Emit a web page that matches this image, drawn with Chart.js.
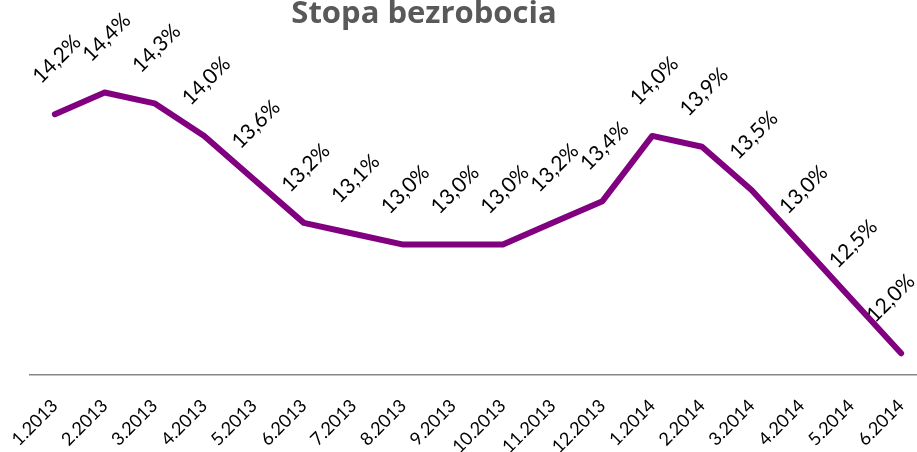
<!DOCTYPE html>
<html>
<head>
<meta charset="utf-8">
<script src="https://cdn.jsdelivr.net/npm/chart.js@4"></script>
<style>
  html, body { margin: 0; padding: 0; background: #fff; overflow: hidden; }
  #wrap { width: 940px; height: 452px; position: relative; }
</style>
</head>
<body>
<div id="wrap"><canvas id="chart" width="940" height="452"></canvas></div>
<script>
"use strict";

const TITLE = "Stopa bezrobocia";
const MONTHS = ["1.2013", "2.2013", "3.2013", "4.2013", "5.2013", "6.2013", "7.2013", "8.2013", "9.2013",
    "10.2013", "11.2013", "12.2013", "1.2014", "2.2014", "3.2014", "4.2014", "5.2014", "6.2014"];
const RATES = [14.2, 14.4, 14.3, 14.0, 13.6, 13.2, 13.1, 13.0, 13.0, 13.0, 13.2, 13.4, 14.0, 13.9, 13.5, 13.0, 12.5, 12.0];
const Y_MIN = 11.8;
const Y_MAX = 14.8;

const LABEL_FONT = '21px Lato, "Liberation Sans", sans-serif';
const VISIBLE_WIDTH = 917;

// rotated value labels above each point, kept inside the visible area
const valueLabels = {
    id: "valueLabels",
    afterDatasetsDraw(chart) {
        const ctx = chart.ctx;
        const meta = chart.getDatasetMeta(0);
        ctx.save();
        ctx.font = LABEL_FONT;
        ctx.fillStyle = "#000";
        ctx.textAlign = "center";
        ctx.textBaseline = "middle";
        meta.data.forEach((pt, i) => {
            const txt = RATES[i].toFixed(1).replace(".", ",") + "%";
            const half = (ctx.measureText(txt).width / 2 + 8) * Math.SQRT1_2;
            let cx = pt.x + 2;
            if (cx + half > VISIBLE_WIDTH) cx = VISIBLE_WIDTH - half;
            ctx.save();
            ctx.translate(cx, pt.y - 55);
            ctx.rotate(-Math.PI / 4);
            ctx.fillText(txt, 0, 0);
            ctx.restore();
        });
        ctx.restore();
    }
};

// title placed like the original (not centred on the canvas)
const titleText = {
    id: "titleText",
    afterDraw(chart) {
        const ctx = chart.ctx;
        ctx.save();
        ctx.font = 'bold 31px "Open Sans", sans-serif';
        ctx.fillStyle = "#595959";
        ctx.textAlign = "center";
        ctx.textBaseline = "alphabetic";
        ctx.fillText(TITLE, 424, 23);
        ctx.restore();
    }
};

new Chart(document.getElementById("chart"), {
    type: "line",
    data: {
        labels: MONTHS,
        datasets: [{
            data: RATES,
            borderColor: "#800080",
            borderWidth: 6,
            borderCapStyle: "round",
            borderJoinStyle: "round",
            pointRadius: 0,
            tension: 0,
            fill: false
        }]
    },
    options: {
        responsive: false,
        animation: false,
        layout: { padding: { top: 49, left: 30, right: 14, bottom: 0 } },
        scales: {
            y: {
                display: false,
                min: Y_MIN,
                max: Y_MAX
            },
            x: {
                offset: true,
                afterFit: (scale) => {
                    scale.height = 77;
                    scale.paddingLeft = 0;
                    scale.paddingRight = 0;
                },
                grid: { display: false, drawTicks: false },
                border: { display: true, color: "#868686", width: 1.5 },
                ticks: {
                    color: "#000",
                    font: { family: 'Lato, "Liberation Sans", sans-serif', size: 18 },
                    minRotation: 45,
                    maxRotation: 45,
                    autoSkip: false,
                    padding: 20
                }
            }
        },
        plugins: {
            legend: { display: false },
            tooltip: { enabled: false },
            title: { display: false }
        }
    },
    plugins: [valueLabels, titleText]
});
</script>
</body>
</html>
